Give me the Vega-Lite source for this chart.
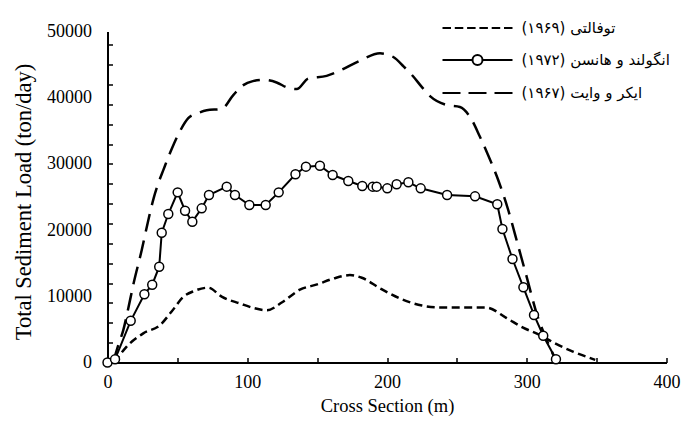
{
  "$schema": "https://vega.github.io/schema/vega-lite/v6.json",
  "width": 559,
  "height": 331,
  "autosize": "none",
  "padding": {"left": 107.5, "top": 31.5, "right": 16.5, "bottom": 62.5},
  "config": {"view": {"stroke": null}, "font": "Liberation Serif"},
  "data": {
    "values": [
      {"series": "T", "x": 5, "y": 0},
      {"series": "T", "x": 13.7, "y": 2400},
      {"series": "T", "x": 25.6, "y": 4400},
      {"series": "T", "x": 37.6, "y": 5650},
      {"series": "T", "x": 45.9, "y": 7700},
      {"series": "T", "x": 54.2, "y": 9900},
      {"series": "T", "x": 62, "y": 10800},
      {"series": "T", "x": 72, "y": 11300},
      {"series": "T", "x": 82, "y": 9900},
      {"series": "T", "x": 95, "y": 8900},
      {"series": "T", "x": 105, "y": 8200},
      {"series": "T", "x": 114, "y": 7900},
      {"series": "T", "x": 125, "y": 9100},
      {"series": "T", "x": 137.7, "y": 11000},
      {"series": "T", "x": 150, "y": 11800},
      {"series": "T", "x": 162, "y": 12700},
      {"series": "T", "x": 173.5, "y": 13200},
      {"series": "T", "x": 182, "y": 12800},
      {"series": "T", "x": 195, "y": 11200},
      {"series": "T", "x": 210, "y": 9600},
      {"series": "T", "x": 225, "y": 8600},
      {"series": "T", "x": 238, "y": 8300},
      {"series": "T", "x": 271, "y": 8300},
      {"series": "T", "x": 285.6, "y": 6700},
      {"series": "T", "x": 297, "y": 5300},
      {"series": "T", "x": 309.5, "y": 4150},
      {"series": "T", "x": 321, "y": 2800},
      {"series": "T", "x": 333, "y": 1650},
      {"series": "T", "x": 349, "y": 400},

      {"series": "A", "x": 4, "y": 0},
      {"series": "A", "x": 8, "y": 2800},
      {"series": "A", "x": 11.3, "y": 4900},
      {"series": "A", "x": 15, "y": 8300},
      {"series": "A", "x": 18.5, "y": 11800},
      {"series": "A", "x": 24.5, "y": 17000},
      {"series": "A", "x": 29.2, "y": 21500},
      {"series": "A", "x": 33, "y": 24800},
      {"series": "A", "x": 36.4, "y": 27100},
      {"series": "A", "x": 40, "y": 29100},
      {"series": "A", "x": 46, "y": 32300},
      {"series": "A", "x": 52, "y": 35000},
      {"series": "A", "x": 57.8, "y": 36900},
      {"series": "A", "x": 65, "y": 37700},
      {"series": "A", "x": 71, "y": 38100},
      {"series": "A", "x": 81.7, "y": 38300},
      {"series": "A", "x": 90, "y": 40400},
      {"series": "A", "x": 97.2, "y": 41900},
      {"series": "A", "x": 104, "y": 42500},
      {"series": "A", "x": 111.5, "y": 42700},
      {"series": "A", "x": 121, "y": 42300},
      {"series": "A", "x": 129, "y": 41500},
      {"series": "A", "x": 135.4, "y": 41300},
      {"series": "A", "x": 143.7, "y": 42900},
      {"series": "A", "x": 156.8, "y": 43300},
      {"series": "A", "x": 166.4, "y": 44100},
      {"series": "A", "x": 180.7, "y": 45600},
      {"series": "A", "x": 195, "y": 46700},
      {"series": "A", "x": 204.5, "y": 46150},
      {"series": "A", "x": 212, "y": 44700},
      {"series": "A", "x": 218.8, "y": 43200},
      {"series": "A", "x": 225, "y": 41600},
      {"series": "A", "x": 231, "y": 40200},
      {"series": "A", "x": 242.7, "y": 38900},
      {"series": "A", "x": 252.2, "y": 38600},
      {"series": "A", "x": 259.4, "y": 37100},
      {"series": "A", "x": 266.5, "y": 34100},
      {"series": "A", "x": 272, "y": 31500},
      {"series": "A", "x": 279.7, "y": 27500},
      {"series": "A", "x": 286.8, "y": 23000},
      {"series": "A", "x": 294, "y": 17500},
      {"series": "A", "x": 300, "y": 12900},
      {"series": "A", "x": 307.1, "y": 7400},
      {"series": "A", "x": 314.3, "y": 3400},
      {"series": "A", "x": 321.4, "y": 100},

      {"series": "E", "x": 0, "y": 0},
      {"series": "E", "x": 5.4, "y": 480},
      {"series": "E", "x": 16.6, "y": 6300},
      {"series": "E", "x": 26.4, "y": 10300},
      {"series": "E", "x": 32, "y": 11750},
      {"series": "E", "x": 37, "y": 14470},
      {"series": "E", "x": 38.8, "y": 19600},
      {"series": "E", "x": 43.5, "y": 22430},
      {"series": "E", "x": 50.2, "y": 25700},
      {"series": "E", "x": 55.5, "y": 22930},
      {"series": "E", "x": 60.7, "y": 21270},
      {"series": "E", "x": 67.4, "y": 23290},
      {"series": "E", "x": 72.6, "y": 25300},
      {"series": "E", "x": 85.3, "y": 26560},
      {"series": "E", "x": 91.2, "y": 25300},
      {"series": "E", "x": 101.5, "y": 23790},
      {"series": "E", "x": 113.2, "y": 23790},
      {"series": "E", "x": 122.5, "y": 25700},
      {"series": "E", "x": 134.5, "y": 28430},
      {"series": "E", "x": 142, "y": 29580},
      {"series": "E", "x": 152, "y": 29730},
      {"series": "E", "x": 161.1, "y": 28320},
      {"series": "E", "x": 172.3, "y": 27420},
      {"series": "E", "x": 182.3, "y": 26660},
      {"series": "E", "x": 189.8, "y": 26560},
      {"series": "E", "x": 192.6, "y": 26560},
      {"series": "E", "x": 200.2, "y": 26310},
      {"series": "E", "x": 206.9, "y": 26920},
      {"series": "E", "x": 215.3, "y": 27220},
      {"series": "E", "x": 224.1, "y": 26310},
      {"series": "E", "x": 243, "y": 25300},
      {"series": "E", "x": 263, "y": 25100},
      {"series": "E", "x": 278.9, "y": 23900},
      {"series": "E", "x": 282.6, "y": 20170},
      {"series": "E", "x": 289.8, "y": 15630},
      {"series": "E", "x": 297.6, "y": 11360},
      {"series": "E", "x": 305.2, "y": 7180},
      {"series": "E", "x": 311.8, "y": 4050},
      {"series": "E", "x": 320.9, "y": 500}
    ]
  },
  "layer": [
    {
      "transform": [{"filter": "datum.series == 'T'"}],
      "mark": {"type": "line", "interpolate": "monotone", "color": "black", "strokeWidth": 2.5, "strokeDash": [8, 4.5]},
      "encoding": {
        "x": {"field": "x", "type": "quantitative", "scale": {"domain": [0, 400], "nice": false},
          "axis": {"orient": "bottom", "values": [0, 50, 100, 150, 200, 250, 300, 350, 400], "labels": false, "domain": false, "grid": false, "tickSize": -5, "tickColor": "black", "tickWidth": 1.5, "title": null}},
        "y": {"field": "y", "type": "quantitative", "scale": {"domain": [0, 50000], "nice": false},
          "axis": {"orient": "left", "values": [0, 3000, 6000, 9000, 12000, 15000, 18000, 21000, 24000, 27000, 30000, 33000, 36000, 39000, 42000, 45000, 48000], "labels": false, "domain": false, "grid": false, "tickSize": -5, "tickColor": "black", "tickWidth": 1.5, "title": null}}
      }
    },
    {
      "transform": [{"filter": "datum.series == 'A'"}],
      "mark": {"type": "line", "interpolate": "monotone", "color": "black", "strokeWidth": 2.5, "strokeDash": [18, 9]},
      "encoding": {
        "x": {"field": "x", "type": "quantitative", "axis": null},
        "y": {"field": "y", "type": "quantitative", "axis": null}
      }
    },
    {
      "transform": [{"filter": "datum.series == 'E'"}],
      "mark": {"type": "line", "color": "black", "strokeWidth": 2},
      "encoding": {
        "x": {"field": "x", "type": "quantitative",
          "axis": {"orient": "bottom", "values": [0, 100, 200, 300, 400], "format": "d", "ticks": false, "tickSize": 0, "domain": true, "domainColor": "black", "domainWidth": 2, "grid": false, "labelFontSize": 18, "labelColor": "black", "labelPadding": 11, "labelFlush": false, "title": "Cross Section (m)", "titleFontSize": 18.5, "titleFontWeight": "normal", "titleColor": "black", "titlePadding": 5}},
        "y": {"field": "y", "type": "quantitative",
          "axis": {"orient": "left", "values": [0, 10000, 20000, 30000, 40000, 50000], "format": "d", "ticks": false, "tickSize": 0, "domain": true, "domainColor": "black", "domainWidth": 2, "grid": false, "labelFontSize": 18, "labelColor": "black", "labelPadding": 16, "labelFlush": false, "title": "Total Sediment Load (ton/day)", "titleFontSize": 22.5, "titleFontWeight": "normal", "titleColor": "black", "titlePadding": 11, "titleY": 170}}
      }
    },
    {
      "transform": [{"filter": "datum.series == 'E'"}],
      "mark": {"type": "point", "shape": "circle", "filled": true, "fill": "white", "stroke": "black", "strokeWidth": 1.5, "size": 80, "opacity": 1},
      "encoding": {
        "x": {"field": "x", "type": "quantitative", "axis": null},
        "y": {"field": "y", "type": "quantitative", "axis": null}
      }
    },
    {
      "transform": [{"filter": "datum.series == 'none'"}],
      "mark": {"type": "point", "filled": false, "color": "black", "stroke": "black", "strokeWidth": 2, "size": 400, "opacity": 1},
      "encoding": {
        "shape": {
          "field": "series", "type": "nominal",
          "scale": {
            "domain": ["توفالتی (۱۹۶۹)", "انگولند و هانسن (۱۹۷۲)", "ایکر و وایت (۱۹۶۷)"],
            "range": [
              "M-3.5,0H-2.65M-2.27,0H-1.42M-1.04,0H-0.19M0.19,0H1.04M1.42,0H2.27M2.65,0H3.5",
              "M-3.5,0H-0.5M0.5,0H3.5M0.5,0A0.5,0.5 0 1 1 -0.5,0A0.5,0.5 0 1 1 0.5,0Z",
              "M-3.5,0H-1.7M-0.9,0H0.9M1.7,0H3.5"
            ]
          },
          "legend": {"title": null, "orient": "none", "legendX": 359, "legendY": -14.5, "padding": 0, "symbolSize": 400, "symbolStrokeWidth": 2, "symbolStrokeColor": "black", "symbolOpacity": 1, "labelFont": "DejaVu Sans", "labelFontSize": 15, "labelColor": "black", "labelOffset": 33, "rowPadding": 13, "labelLimit": 0}
        }
      }
    }
  ],
  "resolve": {"axis": {"x": "independent", "y": "independent"}}
}
